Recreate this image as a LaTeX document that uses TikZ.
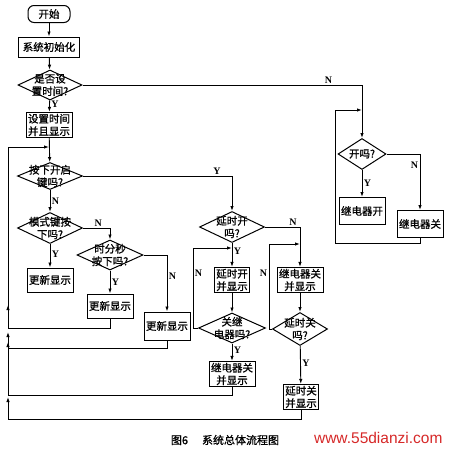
\documentclass[tikz,border=0pt]{standalone}
\usepackage{fontspec}
\setmainfont{Noto Sans CJK SC}[UprightFeatures={FakeBold=1}]
\newfontfamily\lat{Liberation Serif}
\newfontfamily\web{Liberation Sans}
\usepackage{tikz}
\usetikzlibrary{arrows.meta,positioning,shapes.geometric}
\usepackage{xcolor}
\definecolor{wmred}{RGB}{214,40,40}

\begin{document}
\begin{tikzpicture}[x=1pt, y=-1pt, every node/.style={font=\fontsize{10.5}{12.5}\selectfont}, >={Latex[length=5pt,width=3.5pt]}]
\tikzset{proc/.style={draw, line width=1pt, inner xsep=2pt, inner ysep=1.5pt, minimum height=24pt, align=center}}
\tikzset{dec/.style={draw, diamond, line width=1pt, inner sep=0pt, minimum width=65pt, minimum height=30pt, label={[align=center, inner sep=0pt]center:#1}}}
\tikzset{yn/.style={font=\lat\bfseries\fontsize{10}{12}\selectfont, inner sep=1.5pt}}
\tikzset{flow/.style={line width=0.9pt, ->}}
\tikzset{line/.style={line width=0.9pt}}
\useasboundingbox (0,0) rectangle (450,450);
% main column
\node[draw, line width=1pt, rounded corners=6pt, minimum width=42pt, minimum height=17pt, inner sep=1pt] (start) at (49,14) {开始};
\node[proc, minimum height=20pt, inner xsep=4pt] (init) at (49,47) {系统初始化};
\node[dec={是否设\\置时间?}, minimum width=64pt] (qset) at (50,85) {};
\node[proc] (setdisp) at (49,125) {设置时间\\并且显示};
\node[dec={按下开启\\键吗?}, minimum height=27pt] (qkey) at (50,176) {};
\node[dec={模式键按\\下吗?}, minimum height=31pt] (qmode) at (50,228) {};
\node[proc] (upd1) at (50,280) {更新显示};
\node[dec={时分秒\\按下吗?}, minimum width=66pt] (qhms) at (110,255) {};
\node[proc] (upd2) at (110,306) {更新显示};
\node[proc, minimum height=28pt] (upd3) at (167,326) {更新显示};
% delay on / off
\node[dec={延时开\\吗?}, minimum height=31pt] (qdon) at (232,227) {};
\node[proc] (donshow) at (232,280) {延时开\\并显示};
\node[dec={关继\\电器吗?}, minimum width=67pt] (qoff) at (232,328) {};
\node[proc] (offshow2) at (232,374) {继电器关\\并显示};
\node[proc] (offshow1) at (300,280) {继电器关\\并显示};
\node[dec={延时关\\吗?}, minimum width=55pt, minimum height=33pt] (qdoff) at (300,329) {};
\node[proc] (doffshow) at (301,397) {延时关\\并显示};
% relay
\node[dec={开吗?}, minimum width=48pt, minimum height=31pt] (qon) at (362,154) {};
\node[proc, minimum height=27pt] (relon) at (362,211) {继电器开};
\node[proc, minimum height=27pt] (reloff) at (420,224) {继电器关};
% return points
\coordinate (r1) at (8,328);
\coordinate (r2) at (8,348);
\coordinate (r3) at (8,395);
\coordinate (r4) at (8,419);
\coordinate (keyin) at (49,147);
\coordinate (donin) at (232,248);
\coordinate (doffin) at (300,244);
\coordinate (onin) at (362,110);
\coordinate (onback) at (335,243);
% connectors
\draw[flow] (start) -- (init);
\draw[flow] (init) -- (qset);
\draw[flow] (qset) -- node[yn, right, pos=0.3]{Y} (setdisp);
\draw[flow] (qset.east) -- node[yn, above, pos=0.88]{N} (qset.east -| onin) -- (qon);
\draw[flow] (reloff) |- (onback) |- (onin);
\draw[flow] (qon) -- node[yn, right, pos=0.48]{Y} (relon);
\draw[flow] (qon.east) -| node[yn, left, pos=0.6]{N} (reloff);
\draw[flow] (setdisp) -- (qkey);
\draw[flow] (qkey.east) -| node[yn, above, pos=0.45]{Y} (qdon);
\draw[flow] (qkey) -- node[yn, right, pos=0.5]{N} (qmode);
\draw[flow] (qmode.east) -| node[yn, above, pos=0.28]{N} (qhms);
\draw[flow] (qmode) -- node[yn, right, pos=0.45]{Y} (upd1);
\draw[flow] (qhms) -- node[yn, right, pos=0.5]{Y} (upd2);
\draw[flow] (qhms.east) -| node[yn, right, pos=0.69]{N} (upd3);
\draw[line] (upd2) |- (r1);
\draw[line] (upd3) |- (r2);
\draw[flow] (qdon) -- node[yn, right, pos=0.35]{Y} (donshow);
\draw[flow] (qdon.east) -| node[yn, above, pos=0.4]{N} (offshow1);
\draw[flow] (donshow) -- (qoff);
\draw[flow] (qoff) -- node[yn, right, pos=0.4]{Y} (offshow2);
\draw[flow] (qoff.west) -- ++(-5,0) |- node[yn, right, pos=0.34]{N} (donin);
\draw[flow] (offshow1) -- (qdoff);
\draw[flow] (qdoff) -- node[yn, right, pos=0.45]{Y} (doffshow);
\draw[flow] (qdoff.west) -- ++(-3,0) |- node[yn, left, pos=0.33]{N} (doffin);
\draw[line] (offshow2) |- (r3);
\draw[line] (doffshow) |- (r4);
% return bus
\draw[flow] (r4) -- ++(0,-22);
\draw[flow] (r3) -- ++(0,-53);
\draw[flow] (r2) -- ++(0,-16);
\draw[flow] (r1) -- ++(0,-23);
\draw[flow] (r1) |- (keyin);
% caption
\node[font=\fontsize{11}{13}\selectfont] (cap) at (225,440) {图6\hspace{14pt}系统总体流程图};
\node[font=\web\fontsize{15.5}{16}\selectfont, text=wmred, anchor=east] (wm) at (446,438) {www.55dianzi.com};
\end{tikzpicture}
\end{document}
